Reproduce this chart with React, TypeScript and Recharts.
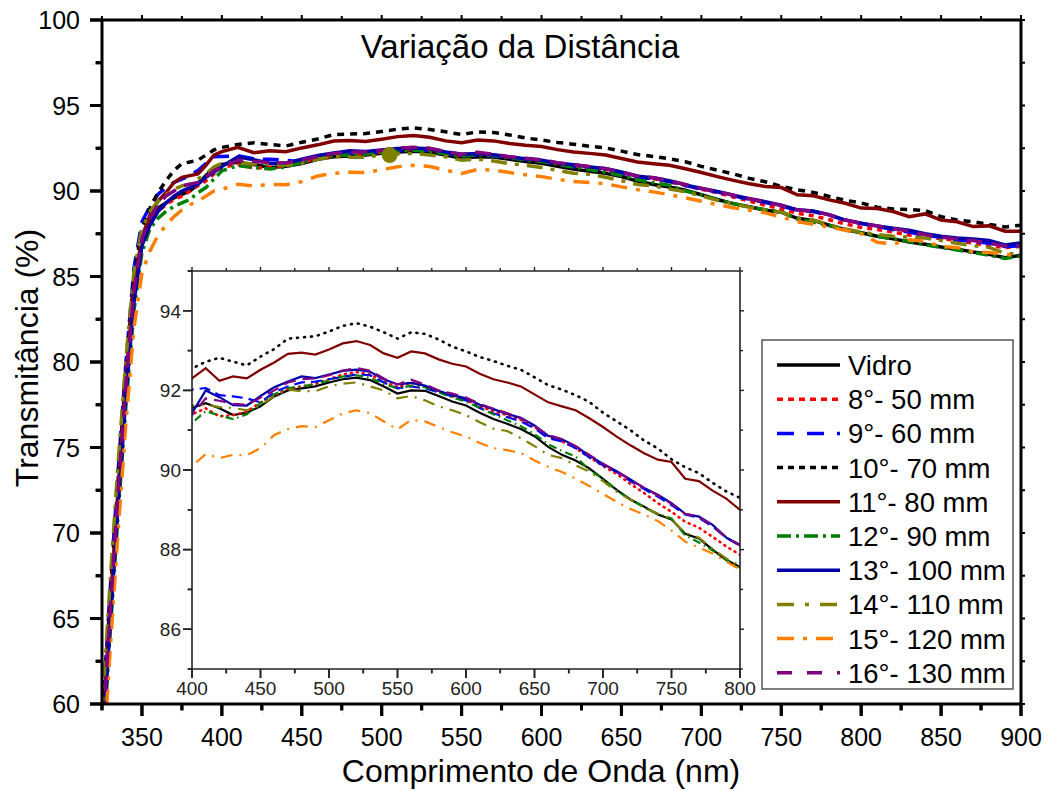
import React from "react";
import { LineChart, Line, XAxis, YAxis, ReferenceDot } from "recharts";

// wavelength grid (nm)
const wavelengths = [
  325, 330, 335, 340, 345, 350, 355, 360, 365, 370, 375, 380, 385, 390, 395, 400,
  410, 420, 430, 440, 450, 460, 470, 480, 490, 500,
  510, 520, 530, 540, 550, 560, 570, 580, 590, 600,
  610, 620, 630, 640, 650, 660, 670, 680, 690, 700,
  710, 720, 730, 740, 750, 760, 770, 780, 790, 800,
  810, 820, 830, 840, 850, 860, 870, 880, 890, 900,
];

const vidro = [
  57.5, 65, 72, 78.5, 84, 87, 88.3, 89.0, 89.3, 89.6, 89.8, 90.0, 90.4, 90.9, 91.3, 91.56,
  91.68, 91.55, 91.38, 91.44, 91.6, 91.85, 92.0, 92.05, 92.1, 92.2,
  92.28, 92.32, 92.26, 92.1, 91.92, 92.0, 91.99, 91.86, 91.72, 91.62,
  91.44, 91.28, 91.16, 91.03, 90.85, 90.58, 90.38, 90.24, 90.04, 89.78,
  89.5, 89.26, 89.08, 88.88, 88.76, 88.4, 88.28, 88.0, 87.74, 87.56,
  87.35, 87.2, 87.02, 86.88, 86.72, 86.6, 86.43, 86.3, 86.1, 86.24,
];
const d8_50 = [
  57.2, 64.8, 71.8, 78.3, 83.8, 86.9, 88.1, 88.8, 89.2, 89.5, 89.7, 90.0, 90.3, 90.6, 91.0, 91.4,
  91.55, 91.35, 91.38, 91.47, 91.7, 91.88, 92.04, 92.1, 92.16, 92.28,
  92.4, 92.46, 92.4, 92.22, 92.08, 92.2, 92.1, 91.97, 91.86, 91.76,
  91.6, 91.48, 91.38, 91.26, 91.08, 90.85, 90.72, 90.55, 90.32, 90.1,
  89.9, 89.65, 89.42, 89.17, 88.95, 88.7, 88.55, 88.32, 88.08, 87.87,
  87.75, 87.6, 87.42, 87.3, 87.2, 87.12, 86.95, 86.8, 86.7, 86.76,
];
const d9_60 = [
  59, 66.5, 73.5, 80, 85.5, 88.2, 89.1, 89.8, 90.2, 90.5, 90.7, 90.9, 91.2, 91.6, 92.0, 92.02,
  92.06, 91.88, 91.85, 91.8, 91.7, 91.95, 92.1, 92.2, 92.22, 92.28,
  92.34, 92.4, 92.38, 92.2, 92.05, 92.1, 92.05, 91.95, 91.85, 91.75,
  91.56, 91.42, 91.33, 91.22, 91.05, 90.8, 90.72, 90.55, 90.32, 90.12,
  89.95, 89.72, 89.52, 89.33, 89.12, 88.88, 88.8, 88.58, 88.3, 88.1,
  87.92, 87.75, 87.6, 87.4, 87.3, 87.15, 87.05, 86.95, 86.75, 86.8,
];
const d10_70 = [
  58.5, 66, 73, 79.5, 85, 87.8, 89.0, 89.9, 90.6, 91.2, 91.6, 91.7, 91.8, 92.1, 92.4, 92.55,
  92.72, 92.82, 92.72, 92.63, 92.85, 93.04, 93.3, 93.33, 93.36, 93.48,
  93.62, 93.69, 93.6, 93.46, 93.3, 93.46, 93.42, 93.28, 93.1, 92.98,
  92.84, 92.74, 92.62, 92.52, 92.33, 92.13, 92.02, 91.88, 91.71, 91.44,
  91.22, 91.0, 90.74, 90.54, 90.27, 90.07, 89.92, 89.68, 89.46, 89.3,
  89.05, 88.95, 88.92, 88.85, 88.5, 88.3, 88.2, 88.05, 87.9, 88.0,
];
const d11_80 = [
  58, 65.5, 72.5, 79, 84.5, 87.3, 88.6, 89.4, 89.9, 90.5, 90.8, 90.9, 91.0, 91.5, 92.1, 92.3,
  92.56, 92.24, 92.35, 92.3, 92.52, 92.7, 92.92, 92.95, 92.9, 93.03,
  93.18, 93.24, 93.14, 92.93, 92.82, 92.98, 92.93, 92.78, 92.67, 92.6,
  92.42, 92.28, 92.2, 92.1, 91.9, 91.7, 91.6, 91.5, 91.3, 91.08,
  90.84, 90.62, 90.42, 90.26, 90.2, 89.78, 89.72, 89.48, 89.28, 89.0,
  88.98, 88.8, 88.5, 88.66, 88.3, 88.2, 87.92, 87.96, 87.65, 87.65,
];
const d12_90 = [
  56.5, 64, 71, 77.5, 83, 86.4, 87.8, 88.4, 88.8, 89.1, 89.3, 89.5, 89.9, 90.2, 90.7, 91.18,
  91.48, 91.37, 91.28, 91.4, 91.68, 91.9, 92.06, 92.1, 92.16, 92.25,
  92.35, 92.38, 92.32, 92.16, 92.05, 92.12, 92.08, 91.95, 91.82, 91.72,
  91.56, 91.4, 91.25, 91.1, 90.9, 90.65, 90.48, 90.34, 90.0, 89.78,
  89.48, 89.26, 89.06, 88.9, 88.78, 88.36, 88.18, 87.98, 87.75, 87.55,
  87.35, 87.2, 87.05, 86.85, 86.7, 86.55, 86.4, 86.25, 86.05, 86.2,
];
const d13_100 = [
  57, 64.5, 71.5, 78, 83.5, 86.8, 88.0, 88.8, 89.3, 89.7, 90.0, 90.2, 90.4, 90.8, 91.1, 91.43,
  92.0, 91.83, 91.63, 91.62, 91.86, 92.08, 92.22, 92.35, 92.31, 92.4,
  92.49, 92.52, 92.47, 92.28, 92.15, 92.19, 92.12, 91.99, 91.88, 91.8,
  91.64, 91.53, 91.41, 91.31, 91.12, 90.86, 90.77, 90.6, 90.36, 90.15,
  89.97, 89.76, 89.55, 89.38, 89.17, 88.9, 88.83, 88.62, 88.3, 88.12,
  87.96, 87.82, 87.7, 87.5, 87.35, 87.25, 87.2, 87.1, 86.85, 86.96,
];
const d14_110 = [
  59.5, 67, 74, 80.2, 85.3, 87.8, 88.8, 89.4, 89.8, 90.1, 90.3, 90.4, 90.7, 91.0, 91.4, 91.62,
  91.64, 91.58, 91.56, 91.5, 91.62, 91.86, 92.02, 91.98, 91.98, 92.1,
  92.17, 92.2, 92.1, 92.0, 91.8, 91.86, 91.75, 91.6, 91.5, 91.38,
  91.2, 91.04, 90.98, 90.8, 90.6, 90.38, 90.3, 90.12, 89.96, 89.72,
  89.45, 89.25, 89.05, 88.9, 88.76, 88.42, 88.3, 88.02, 87.78, 87.6,
  87.45, 87.35, 87.3, 87.25, 87.1, 86.95, 86.8, 86.7, 86.35, 86.3,
];
const d15_120 = [
  55.5, 63, 70, 76.5, 82, 85.2, 86.5, 87.4, 88.0, 88.5, 88.9, 89.2, 89.4, 89.7, 90.0, 90.1,
  90.4, 90.3, 90.38, 90.37, 90.55, 90.88, 91.03, 91.1, 91.08, 91.25,
  91.42, 91.5, 91.43, 91.22, 91.02, 91.26, 91.22, 91.08, 90.95, 90.84,
  90.68, 90.55, 90.5, 90.43, 90.24, 90.08, 89.95, 89.78, 89.6, 89.4,
  89.2, 89.02, 88.88, 88.72, 88.48, 88.2, 88.05, 87.9, 87.7, 87.5,
  87.0, 86.9, 87.15, 87.05, 86.75, 86.7, 86.45, 86.4, 86.3, 86.2,
];
const d16_130 = [
  57.8, 65.2, 72.3, 78.8, 84.2, 87.2, 88.4, 89.2, 89.7, 90.0, 90.3, 90.4, 90.5, 90.8, 91.2, 91.38,
  91.8, 91.74, 91.66, 91.64, 91.82, 92.0, 92.2, 92.28, 92.3, 92.38,
  92.5, 92.56, 92.5, 92.3, 92.15, 92.27, 92.15, 92.0, 91.92, 91.82,
  91.66, 91.54, 91.43, 91.3, 91.1, 90.88, 90.77, 90.6, 90.38, 90.16,
  89.97, 89.75, 89.55, 89.36, 89.15, 88.9, 88.82, 88.6, 88.3, 88.1,
  87.95, 87.8, 87.65, 87.45, 87.3, 87.2, 87.1, 86.95, 86.78, 86.8,
];

const seriesNames = [
  "Vidro", "8°- 50 mm", "9°- 60 mm", "10°- 70 mm", "11°- 80 mm",
  "12°- 90 mm", "13°- 100 mm", "14°- 110 mm", "15°- 120 mm", "16°- 130 mm",
];
const seriesValues = [vidro, d8_50, d9_60, d10_70, d11_80, d12_90, d13_100, d14_110, d15_120, d16_130];

// odd olive marker sitting on the curves
const markerPoint = [{ nm: 505, t: 92.1 }];

const mainXTicks = [325, 350, 375, 400, 425, 450, 475, 500, 525, 550, 575, 600, 625, 650, 675, 700, 725, 750, 775, 800, 825, 850, 875, 900];
const mainYTicks = [60, 62.5, 65, 67.5, 70, 72.5, 75, 77.5, 80, 82.5, 85, 87.5, 90, 92.5, 95, 97.5, 100];
const insetXTicks = [400, 425, 450, 475, 500, 525, 550, 575, 600, 625, 650, 675, 700, 725, 750, 775, 800];
const insetYTicks = [85, 86, 87, 88, 89, 90, 91, 92, 93, 94, 95];

// styles per series (main plot, inset, legend sample)
const styles = [
  { color: "#000000", main: undefined, inset: undefined, legend: undefined },
  { color: "#ff0000", main: "5 5", inset: "1 5", legend: "6 5" },
  { color: "#0000ff", main: "16 9", inset: "11 6", legend: "17 13" },
  { color: "#000000", main: "7 6", inset: "1 6", legend: "6 5" },
  { color: "#800000", main: undefined, inset: undefined, legend: undefined },
  { color: "#008000", main: "12 5 3 5", inset: "8 4 1.5 4", legend: "14 5 3 5" },
  { color: "#0000a8", main: undefined, inset: undefined, legend: undefined },
  { color: "#808000", main: "16 8 4 8", inset: "12 7 2 7", legend: "17 11 4 11" },
  { color: "#ff8000", main: "16 9 4 9", inset: "12 7 2 7", legend: "17 9 4 9" },
  { color: "#800080", main: "16 9", inset: "12 7", legend: "15 15" },
];

const keys = seriesNames.map((_, i) => `s${i}`);
const rows = wavelengths.map((nm, i) => {
  const r: Record<string, number> = { nm };
  seriesValues.forEach((arr, k) => (r[keys[k]] = arr[i]));
  return r;
});

const FONT = "'Liberation Sans', Arial, sans-serif";

type TickOpts = {
  side: "bottom" | "left" | "top" | "right";
  at: number; // axis line position (px inside the chart svg)
  len: number;
  minor: number;
  gap: number;
  sw: number;
  color: string;
  fs?: number;
  label: boolean;
  native?: boolean; // recharts draws the full-length tick line itself
  isMajor: (v: number) => boolean;
};

// tick mark (major/minor length) plus optional label, placed from the scale coordinate
function renderTick(p: any, o: TickOpts) {
  const c = Number(p.payload.coordinate);
  const v = p.payload.value;
  const major = o.isMajor(v);
  const L = major ? o.len : o.minor;
  const label = o.label && major;
  let d = "";
  let cover = "";
  let txt: React.ReactNode = null;
  if (o.side === "bottom") {
    d = `M${c},${o.at}L${c},${o.at + L}`;
    cover = `M${c},${o.at + L + 0.5}L${c},${o.at + o.len + 1}`;
    if (label)
      txt = (
        <text x={c} y={o.at + o.len + o.gap} dy="0.72em" textAnchor="middle" fontSize={o.fs} fill={o.color} fontFamily={FONT}>
          {v}
        </text>
      );
  } else if (o.side === "left") {
    d = `M${o.at - L},${c}L${o.at},${c}`;
    cover = `M${o.at - o.len - 1},${c}L${o.at - L - 0.5},${c}`;
    if (label)
      txt = (
        <text x={o.at - o.len - o.gap} y={c} dy="0.36em" textAnchor="end" fontSize={o.fs} fill={o.color} fontFamily={FONT}>
          {v}
        </text>
      );
  } else if (o.side === "top") {
    d = `M${c},${o.at - L}L${c},${o.at}`;
  } else {
    d = `M${o.at},${c}L${o.at + L},${c}`;
  }
  return (
    <g>
      <path d={d} stroke={o.color} strokeWidth={o.sw} fill="none" />
      {o.native && !major && <path d={cover} stroke="#fff" strokeWidth={o.sw + 1} fill="none" />}
      {txt}
    </g>
  );
}

const isMajor50 = (v: number) => v % 50 === 0;
const isMajor5 = (v: number) => v % 5 === 0;
const isMajorEven = (v: number) => v % 2 === 0 && v > 85 && v < 95;

// main plot frame: 1052x791 chart, plot box 102..1021 x 20..704
function MainChart() {
  const axisLine = { stroke: "#000", strokeWidth: 3 };
  const tickLine = { stroke: "#000", strokeWidth: 3 };
  const bottom: TickOpts = { side: "bottom", at: 704, len: 12, minor: 6, gap: 12, sw: 3, color: "#000", fs: 25, label: true, native: true, isMajor: isMajor50 };
  const top: TickOpts = { side: "top", at: 20, len: 5, minor: 4, gap: 0, sw: 2, color: "#000", label: false, isMajor: isMajor50 };
  const left: TickOpts = { side: "left", at: 102, len: 12, minor: 6, gap: 10, sw: 3, color: "#000", fs: 25, label: true, native: true, isMajor: isMajor5 };
  const right: TickOpts = { side: "right", at: 1021, len: 4, minor: 4, gap: 0, sw: 2, color: "#000", label: false, isMajor: isMajor5 };
  return (
    <LineChart width={1052} height={791} data={rows} margin={{ top: 19, right: 30, bottom: 0, left: 0 }}>
      <XAxis
        dataKey="nm" type="number" domain={[325, 900]} allowDataOverflow ticks={mainXTicks} interval={0}
        height={87} tickSize={12} tickMargin={12} tickLine={tickLine} axisLine={axisLine}
        tick={(p: any) => renderTick(p, bottom)}
      />
      <XAxis
        xAxisId="top" orientation="top" dataKey="nm" type="number" domain={[325, 900]} allowDataOverflow ticks={mainXTicks} interval={0}
        height={1} tickSize={5} tickMargin={0} tickLine={false} axisLine={axisLine}
        tick={(p: any) => renderTick(p, top)}
      />
      <YAxis
        type="number" domain={[60, 100]} allowDataOverflow ticks={mainYTicks} interval={0}
        width={102} tickSize={12} tickMargin={10} tickLine={tickLine} axisLine={axisLine}
        tick={(p: any) => renderTick(p, left)}
      />
      <YAxis
        yAxisId="right" orientation="right" type="number" domain={[60, 100]} allowDataOverflow ticks={mainYTicks} interval={0}
        width={1} tickSize={4} tickMargin={0} tickLine={false} axisLine={axisLine}
        tick={(p: any) => renderTick(p, right)}
      />
      {keys.map((k, i) => (
        <Line
          key={k} dataKey={k} type="linear" stroke={styles[i].color} strokeWidth={3.5}
          strokeDasharray={styles[i].main} dot={false} activeDot={false} isAnimationActive={false}
        />
      ))}
      {markerPoint.map((p) => (
        <ReferenceDot key={p.nm} x={p.nm} y={p.t} r={8} fill="#808000" stroke="none" />
      ))}
    </LineChart>
  );
}

// inset: 620x440 chart placed at (140,260); plot box 52..600 x 11..409
function InsetChart() {
  const axisLine = { stroke: "#222", strokeWidth: 1.6 };
  const tickLine = { stroke: "#222", strokeWidth: 1.6 };
  const bottom: TickOpts = { side: "bottom", at: 409, len: 9, minor: 4, gap: 3, sw: 1.6, color: "#222", fs: 19, label: true, native: true, isMajor: isMajor50 };
  const top: TickOpts = { side: "top", at: 11, len: 4, minor: 3, gap: 0, sw: 1.4, color: "#222", label: false, isMajor: isMajor50 };
  const left: TickOpts = { side: "left", at: 52, len: 9, minor: 4, gap: 2, sw: 1.6, color: "#222", fs: 19, label: true, native: true, isMajor: isMajorEven };
  const right: TickOpts = { side: "right", at: 600, len: 4, minor: 3, gap: 0, sw: 1.4, color: "#222", label: false, isMajor: isMajorEven };
  return (
    <LineChart width={620} height={440} data={rows} margin={{ top: 10, right: 19, bottom: 0, left: 0 }}>
      <XAxis
        dataKey="nm" type="number" domain={[400, 800]} allowDataOverflow ticks={insetXTicks} interval={0}
        height={31} tickSize={9} tickMargin={3} tickLine={tickLine} axisLine={axisLine}
        tick={(p: any) => renderTick(p, bottom)}
      />
      <XAxis
        xAxisId="top" orientation="top" dataKey="nm" type="number" domain={[400, 800]} allowDataOverflow ticks={insetXTicks} interval={0}
        height={1} tickSize={4} tickMargin={0} tickLine={false} axisLine={axisLine}
        tick={(p: any) => renderTick(p, top)}
      />
      <YAxis
        type="number" domain={[85, 95]} allowDataOverflow ticks={insetYTicks} interval={0}
        width={52} tickSize={9} tickMargin={2} tickLine={tickLine} axisLine={axisLine}
        tick={(p: any) => renderTick(p, left)}
      />
      <YAxis
        yAxisId="right" orientation="right" type="number" domain={[85, 95]} allowDataOverflow ticks={insetYTicks} interval={0}
        width={1} tickSize={4} tickMargin={0} tickLine={false} axisLine={axisLine}
        tick={(p: any) => renderTick(p, right)}
      />
      {keys.map((k, i) => (
        <Line
          key={k} dataKey={k} type="linear" stroke={styles[i].color} strokeWidth={i === 3 || i === 1 ? 2.6 : 2.2}
          strokeDasharray={styles[i].inset} strokeLinecap={i === 3 || i === 1 ? "round" : "butt"}
          dot={false} activeDot={false} isAnimationActive={false}
        />
      ))}
    </LineChart>
  );
}

function Overlay() {
  return (
    <svg width={1052} height={791} style={{ position: "absolute", left: 0, top: 0, pointerEvents: "none" }} fontFamily={FONT}>
      <text x={520} y={58} fontSize={33} textAnchor="middle" fill="#000">Variação da Distância</text>
      <text x={541} y={782} fontSize={32} textAnchor="middle" fill="#000">Comprimento de Onda (nm)</text>
      <text x={38} y={358} fontSize={32} textAnchor="middle" fill="#000" transform="rotate(-90 38 358)">Transmitância (%)</text>
      <rect x={762} y={340} width={251} height={349} fill="#fff" stroke="#555" strokeWidth={1.5} />
      {seriesNames.map((name, i) => {
        const cy = 365 + i * 34.2;
        return (
          <g key={name}>
            <line x1={777} x2={840} y1={cy} y2={cy} stroke={styles[i].color} strokeWidth={3.5} strokeDasharray={styles[i].legend} />
            <text x={848} y={cy} dy="0.36em" fontSize={27.5} fill="#000">{name}</text>
          </g>
        );
      })}
    </svg>
  );
}

export default function App() {
  return (
    <div style={{ position: "absolute", left: 0, top: 0, width: 1052, height: 791, background: "#fff" }}>
      <MainChart />
      <div style={{ position: "absolute", left: 140, top: 260 }}>
        <InsetChart />
      </div>
      <Overlay />
    </div>
  );
}
